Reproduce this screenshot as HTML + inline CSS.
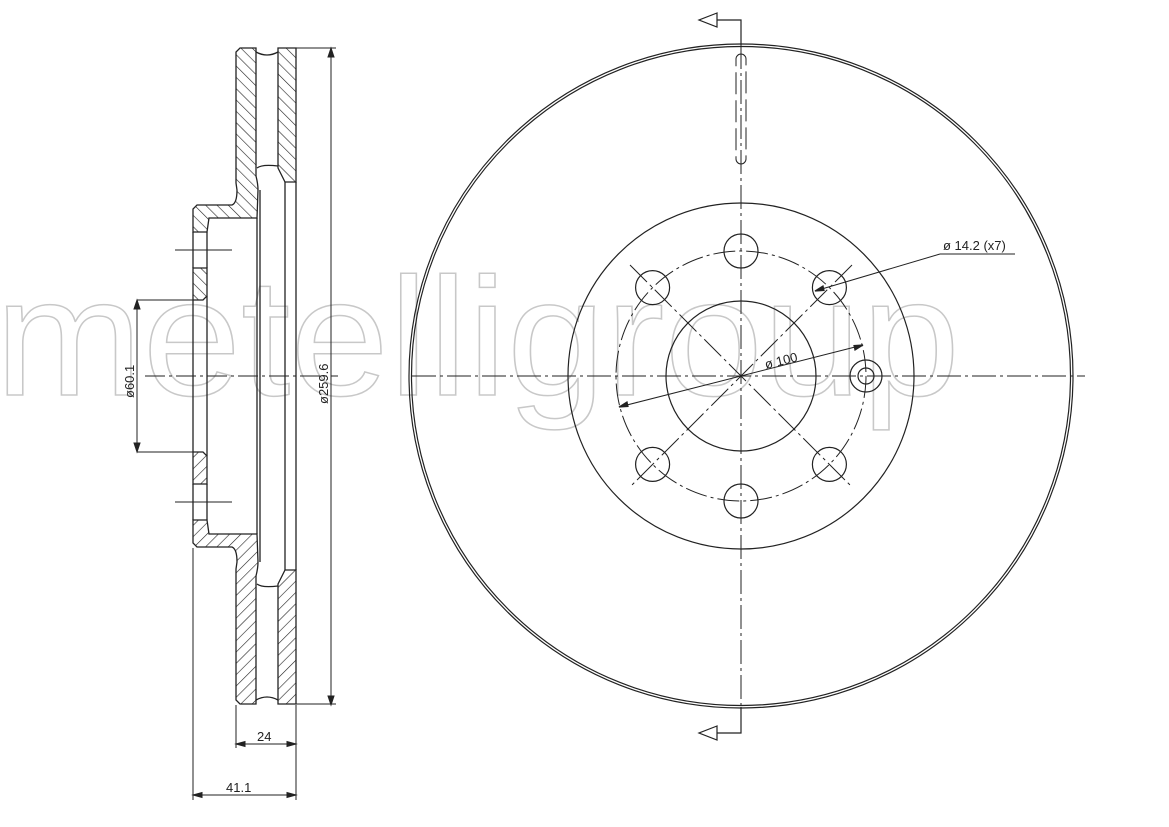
<!DOCTYPE html>
<html><head><meta charset="utf-8"><style>html,body{margin:0;padding:0;background:#fff}svg{display:block}</style></head>
<body>
<svg width="1169" height="827" viewBox="0 0 1169 827" xmlns="http://www.w3.org/2000/svg">
<defs>
<pattern id="h" patternUnits="userSpaceOnUse" width="8" height="8" patternTransform="rotate(-45)">
<rect width="8" height="8" fill="#fff"/><line x1="0" y1="0" x2="0" y2="8" stroke="#222" stroke-width="1.2"/>
</pattern>
<g id="half" fill="url(#h)" stroke="#222" stroke-width="1.3">
 <path d="M240,48 L256,48 L256,176 Q258,184 258,190 L257,218 L209,218 L207,232 L193,232 L193,209 L197,205 L232,205 Q237,203 237,190 L236,183 L236,52 Z"/>
 <path d="M193,268 L207,268 L207,296 L203,300 L193,300 Z"/>
 <path d="M278,48 L296,48 L296,182 L285,182 L278,168 Z"/>
 <path d="M256,52 Q267,58 278,52" fill="none"/>
 <path d="M257,168 Q262,164 278,166" fill="none"/>
 <g fill="none">
 <line x1="257" y1="218" x2="257" y2="376"/><line x1="260" y1="190" x2="260" y2="376"/>
 <line x1="285" y1="182" x2="285" y2="376"/><line x1="296" y1="182" x2="296" y2="376"/>
 <line x1="193" y1="300" x2="193" y2="376"/><line x1="207" y1="296" x2="207" y2="376"/>
 <line x1="207" y1="232" x2="207" y2="268"/>
 <line x1="193" y1="232" x2="193" y2="268"/>
 <line x1="296" y1="48" x2="336" y2="48" stroke-width="1"/>
 </g>
</g>
</defs>
<rect width="1169" height="827" fill="#fff"/>
<text x="-5" y="395" font-family="Liberation Sans, sans-serif" font-size="168" fill="none" stroke="#c8c8c8" stroke-width="1.5" textLength="965" lengthAdjust="spacingAndGlyphs">metelligroup</text>

<use href="#half"/>
<use href="#half" transform="translate(0,752) scale(1,-1)"/>
<g stroke="#222" stroke-width="1" fill="none">
 <line x1="175" y1="250" x2="232" y2="250"/>
 <line x1="175" y1="502" x2="232" y2="502"/>
 <line x1="145" y1="376" x2="338" y2="376" stroke-dasharray="20,4,3,4"/>
 <line x1="331" y1="48" x2="331" y2="705"/>
 <path d="M331,48 l-3,9 h6z M331,705 l-3,-9 h6z" fill="#222"/>
 <line x1="137" y1="300" x2="137" y2="452"/>
 <line x1="137" y1="300" x2="193" y2="300"/><line x1="137" y1="452" x2="193" y2="452"/>
 <path d="M137,300 l-3,9 h6z M137,452 l-3,-9 h6z" fill="#222"/>
 <line x1="236" y1="705" x2="236" y2="748"/><line x1="296" y1="705" x2="296" y2="800"/>
 <line x1="193" y1="548" x2="193" y2="800"/>
 <line x1="236" y1="744" x2="296" y2="744"/>
 <line x1="193" y1="795" x2="296" y2="795"/>
 <path d="M236,744 l9,-2.5 v5z M296,744 l-9,-2.5 v5z M193,795 l9,-2.5 v5z M296,795 l-9,-2.5 v5z" fill="#222"/>
</g>
<g font-family="Liberation Sans, sans-serif" font-size="13" fill="#222">
 <text x="257" y="741">24</text>
 <text x="226" y="792">41.1</text>
 <text transform="translate(134,398) rotate(-90)">ø60.1</text>
 <text transform="translate(328,404) rotate(-90)">ø259.6</text>
</g>

<g stroke="#222" stroke-width="1.2" fill="none">
 <circle cx="741" cy="376" r="332"/>
 <circle cx="741" cy="376" r="329.5"/>
 <circle cx="741" cy="376" r="173"/>
 <circle cx="741" cy="376" r="75"/>
 <circle cx="741" cy="376" r="125" stroke-dasharray="22,4,3,4" stroke-width="1"/>
 <g>
  <circle cx="741" cy="251" r="17"/>
  <circle cx="829.4" cy="287.6" r="17"/>
  <circle cx="652.6" cy="287.6" r="17"/>
  <circle cx="652.6" cy="464.4" r="17"/>
  <circle cx="829.4" cy="464.4" r="17"/>
  <circle cx="741" cy="501" r="17"/>
  <circle cx="866" cy="376" r="16"/>
  <circle cx="866" cy="376" r="8"/>
 </g>
 <g stroke-width="1" stroke-dasharray="24,4,3,4">
  <line x1="412" y1="376" x2="1085" y2="376"/>
  <line x1="741" y1="45" x2="741" y2="707"/>
  <line x1="630" y1="265" x2="852" y2="487"/>
  <line x1="852" y1="265" x2="630" y2="487"/>
 </g>
 <path d="M736,59 a5,5 0 0 1 10,0 v100 a5,5 0 0 1 -10,0 z" stroke-dasharray="22,6" stroke-width="1"/>
 <path d="M741,45 V20 H717"/>
 <path d="M717,13 L699,20 L717,27 Z"/>
 <path d="M741,707 V733 H717"/>
 <path d="M717,726 L699,733 L717,740 Z"/>
 <line x1="619" y1="407" x2="863" y2="345" stroke-width="1"/>
 <path d="M619,407 l8,-5 l1,4.5z M863,345 l-8,5 l-1,-4.5z" fill="#222"/>
 <line x1="815" y1="291" x2="940" y2="254" stroke-width="1"/>
 <line x1="940" y1="254" x2="1015" y2="254" stroke-width="1"/>
 <path d="M815,291 l8,-5 l1,4.5z" fill="#222"/>
</g>
<g font-family="Liberation Sans, sans-serif" font-size="13" fill="#222">
 <text transform="translate(766,369) rotate(-14)">ø 100</text>
 <text x="943" y="250">ø 14.2 (x7)</text>
</g>
</svg>
</body></html>
